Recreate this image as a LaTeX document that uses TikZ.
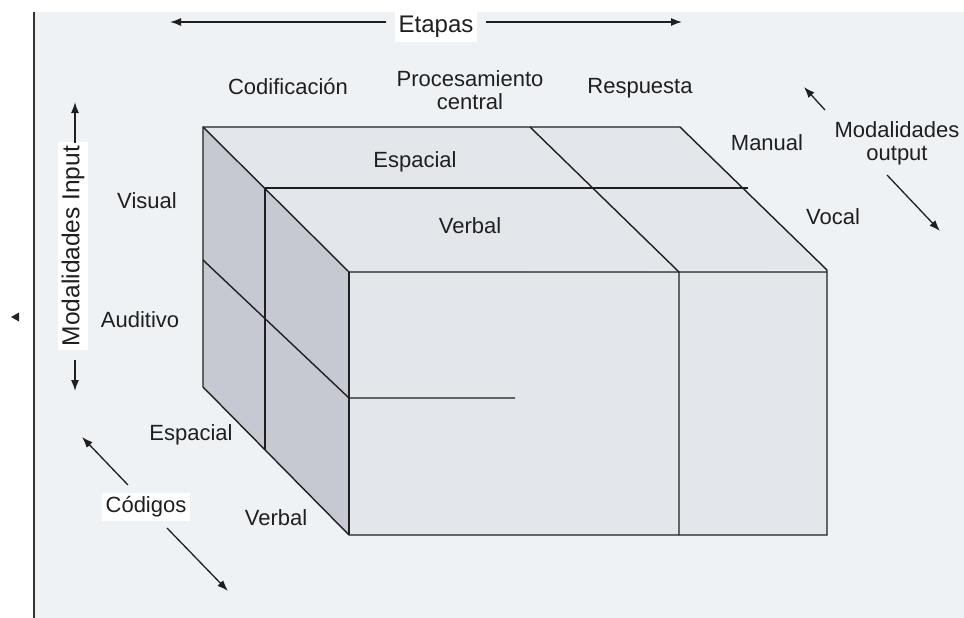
\documentclass[tikz,border=0pt]{standalone}
\usepackage{fontspec}
\setmainfont{Liberation Sans}
\usetikzlibrary{arrows.meta}
\definecolor{bgc}{HTML}{EFF2F5}
\definecolor{facec}{HTML}{E3E6EB}
\definecolor{sidec}{HTML}{C6C9D1}
\begin{document}
\begin{tikzpicture}[x=1pt,y=-1pt,
  edge/.style={line width=1.4pt, black!88},
  arr/.style={line width=1.3pt, black!88, -{Latex[length=11pt,width=8pt]}},
  lbl/.style={font=\fontsize{22}{26}\selectfont, inner sep=1pt, text=black!88},
  boxed/.style={lbl, fill=white, inner sep=4pt}]
\useasboundingbox (0,0) rectangle (964,618);
\fill[white] (0,0) rectangle (964,618);
\fill[bgc] (34,12) rectangle (964,618);
\draw[line width=1.2pt, black!80] (34,12) -- (34,618);
% small triangle at left
\fill[black!85] (11,317) -- (19,312.5) -- (19,321.5) -- cycle;

% cube faces
\fill[facec] (203,127) -- (680,127) -- (827,270) -- (349,272) -- cycle;
\fill[facec] (349,272) rectangle (827,535);
\fill[sidec] (203,127) -- (349,272) -- (349,535) -- (203,387) -- cycle;

% cube edges
\draw[edge] (203,127) -- (680,127) -- (827,270) -- (827,535) -- (349,535) -- (203,387) -- cycle;
\draw[edge] (203,127) -- (349,272) -- (827,272);
\draw[edge] (349,272) -- (349,535);
\draw[edge] (530,127) -- (679,272) -- (679,535);
\draw[edge] (265,188) -- (748,188);
\draw[edge] (265,188) -- (265,450);
\draw[edge] (203,260) -- (349,398) -- (515,398);

% labels
\node[boxed, font=\fontsize{24}{28}\selectfont] (etapas) at (436,27) {Etapas};
\coordinate (etL) at (170,22);
\coordinate (etR) at (682,22);
\draw[arr] ([xshift=-8pt]etapas.west |- etL) -- (etL);
\draw[arr] ([xshift=8pt]etapas.east |- etR) -- (etR);

\node[lbl] (cod) at (288,87) {Codificación};
\node[lbl, align=center] (proc) at (470,90) {Procesamiento\\[-3pt]central};
\node[lbl] (resp) at (640,88) {Respuesta};
\node[lbl] (esp1) at (415,162) {Espacial};
\node[lbl] (verb1) at (470,226) {Verbal};
\node[lbl] (man) at (767,143) {Manual};
\node[lbl] (voc) at (833,217) {Vocal};
\node[lbl, align=center] (mout) at (897,143) {Modalidades\\[-3pt]output};
\coordinate (moA1) at (825,110);
\coordinate (moB1) at (804,87);
\coordinate (moA2) at (887,175);
\coordinate (moB2) at (940,231);
\draw[arr] (moA1) -- (moB1);
\draw[arr] (moA2) -- (moB2);

\node[lbl] (vis) at (147,201) {Visual};
\node[lbl] (aud) at (140,320) {Auditivo};
\node[lbl] (esp2) at (191,435) {Espacial};
\node[lbl] (verb2) at (276,518) {Verbal};

\node[boxed] (codg) at (146,507) {Códigos};
\coordinate (cgA1) at (128,485);
\coordinate (cgB1) at (82,437);
\coordinate (cgA2) at (167,528);
\coordinate (cgB2) at (228,591);
\draw[arr] (cgA1) -- (cgB1);
\draw[arr] (cgA2) -- (cgB2);

\node[boxed, rotate=90, font=\fontsize{24.5}{28}\selectfont] (min) at (73,246) {Modalidades Input};
\coordinate (miT) at (75,102);
\coordinate (miB) at (75,391);
\draw[arr] (75,143) -- (miT);
\draw[arr] (75,360) -- (miB);
\end{tikzpicture}
\end{document}
